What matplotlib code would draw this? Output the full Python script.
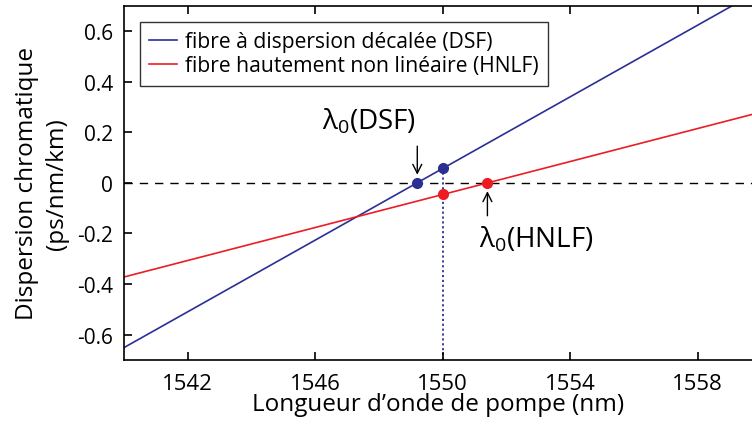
import matplotlib
matplotlib.use("Agg")
import matplotlib.pyplot as plt
import numpy as np

plt.rcParams['font.family'] = ['Open Sans', 'DejaVu Sans']
plt.rcParams['mathtext.fontset'] = 'custom'
plt.rcParams['mathtext.rm'] = 'Open Sans'
plt.rcParams['mathtext.it'] = 'Open Sans'

# Data
wavelength = [1540, 1560]                 # nm
dsf_dispersion = [-0.651, 0.765]          # ps/nm/km
hnlf_dispersion = [-0.372, 0.280]         # ps/nm/km
pump_wavelength = 1550
dsf_at_pump = 0.057
hnlf_at_pump = -0.046
lambda0_dsf = 1549.2
lambda0_hnlf = 1551.4
xticks = [1542, 1546, 1550, 1554, 1558]
yticks = [-0.6, -0.4, -0.2, 0, 0.2, 0.4, 0.6]
yticklabels = ['-0.6', '-0.4', '-0.2', '0', '0.2', '0.4', '0.6']

blue = '#2b2f93'
red = '#ec1c24'

fig = plt.figure(figsize=(7.52, 4.27), dpi=100)
ax = fig.add_axes([124/752, 1-361/427, 1-124/752, (361-6.7)/427])

ax.plot(wavelength, dsf_dispersion, color=blue, lw=1.2,
        label='fibre à dispersion décalée (DSF)')
ax.plot(wavelength, hnlf_dispersion, color=red, lw=1.2,
        label='fibre hautement non linéaire (HNLF)')
ax.axhline(0, color='black', lw=1.0, ls=(0, (6, 5)), zorder=1)
ax.plot([pump_wavelength, pump_wavelength], [-0.7, dsf_at_pump],
        color=blue, lw=1.3, ls=(0, (1.2, 1.5)), zorder=1)

ax.plot([lambda0_dsf, pump_wavelength], [0, dsf_at_pump], 'o', color=blue, ms=7, zorder=3)
ax.plot([pump_wavelength, lambda0_hnlf], [hnlf_at_pump, 0], 'o', color=red, ms=7, zorder=3)

arrow_props = dict(arrowstyle='->', color='black', lw=1.0, mutation_scale=16,
                   shrinkA=0, shrinkB=0)
ax.annotate('', xy=(lambda0_dsf, 0.032), xytext=(lambda0_dsf, 0.145),
            arrowprops=arrow_props)
ax.annotate('', xy=(lambda0_hnlf, -0.033), xytext=(lambda0_hnlf, -0.13),
            arrowprops=arrow_props)
ax.text(1546.2, 0.214, r'$\mathregular{λ_0}$(DSF)', fontsize=20, ha='left', va='baseline')
ax.text(1551.15, -0.25, r'$\mathregular{λ_0}$(HNLF)', fontsize=20, ha='left', va='baseline')

ax.set_xlim(1540, 1559.7)
ax.set_ylim(-0.7, 0.7)
ax.set_xticks(xticks)
ax.set_xticklabels([str(t) for t in xticks])
ax.set_yticks(yticks)
ax.set_yticklabels(yticklabels)
ax.tick_params(direction='in', length=6, width=1.2, labelsize=15, top=True,
               right=False)
ax.tick_params(axis='x', pad=9, labelsize=16)
ax.tick_params(axis='y', pad=8)
ax.spines['right'].set_visible(False)
for s in ['left', 'top', 'bottom']:
    ax.spines[s].set_linewidth(1.2)

ax.set_xlabel("Longueur d’onde de pompe (nm)", fontsize=17.5, labelpad=-1)
ax.set_ylabel("Dispersion chromatique\n(ps/nm/km)", fontsize=17.5, labelpad=6,
              linespacing=1.3)

leg = ax.legend(loc='upper left', fontsize=15.2, frameon=True, fancybox=False,
                edgecolor='black', handlelength=1.3, borderaxespad=0.75,
                handletextpad=0.4, borderpad=0.45, labelspacing=0.15)
leg.get_frame().set_linewidth(1.0)

fig.savefig('out.png', dpi=100)
